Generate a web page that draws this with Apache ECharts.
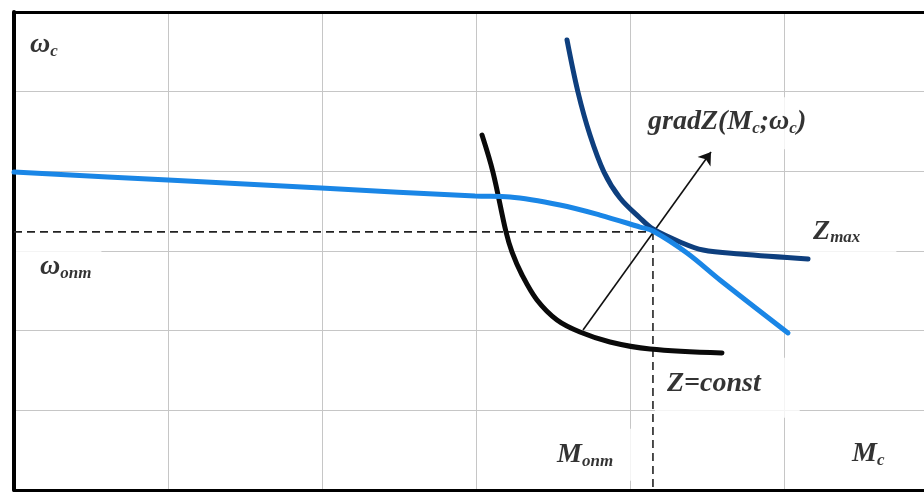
<!DOCTYPE html>
<html>
<head>
<meta charset="utf-8">
<script src="https://cdn.jsdelivr.net/npm/echarts@6/dist/echarts.min.js"></script>
<style>html,body{margin:0;padding:0;background:#fff}#c{width:924px;height:498px}</style>
</head>
<body>
<div id="c"></div>
<script>
// Light blue curve (constraint line)
const blueX = [0, 1, 1.994, 2.994, 3.221, 3.545, 3.805, 4.065, 4.149, 4.37, 4.584, 5.026];
const blueY = [3.991, 3.891, 3.79, 3.69, 3.677, 3.577, 3.451, 3.301, 3.251, 2.975, 2.636, 1.971];
// Dark navy curve Z_max
const navyX = [3.591, 3.662, 3.740, 3.831, 3.935, 4.065, 4.149, 4.325, 4.474, 4.714, 5.156];
const navyY = [5.648, 4.996, 4.456, 3.991, 3.665, 3.414, 3.276, 3.113, 3.012, 2.962, 2.9];
// Black curve Z=const
const blackX = [3.039, 3.110, 3.195, 3.234, 3.299, 3.396, 3.526, 3.675, 3.870, 4.130, 4.597];
const blackY = [4.456, 3.991, 3.238, 2.987, 2.699, 2.385, 2.134, 1.983, 1.858, 1.770, 1.720];
// Optimum point
const Mopt = 4.149;
const wopt = 3.24;
// Gradient arrow
const arrowFrom = [3.695, 2.008];
const arrowTo = [4.526, 4.243];
// Axis ranges
const xMin = 0, xMax = 5.909, yMin = 0, yMax = 6, step = 1;
// Text labels (anchor = top-left of label box in data coords)
const labelTexts = ['{m|ω}{s|c}', '{m|ω}{s|опт}', '{m|gradZ(M}{s|c}{m|;ω}{s|c}{m|)}', '{m|Z}{s|max}', '{m|Z=const}', '{m|M}{s|опт}', '{m|M}{s|c}'];
const labelX = [0.091, 0.013, 4.052, 5.104, 4.162, 3.468, 5.396];
const labelY = [5.80, 3.09, 4.93, 3.56, 1.659, 0.768, 0.743];

const zip = (a, b) => a.map((v, i) => [v, b[i]]);
const font = {fontFamily: 'Liberation Serif', fontStyle: 'italic', fontWeight: 'bold', color: '#000'};
const rich = {
  m: Object.assign({fontSize: 28, lineHeight: 30}, font),
  s: Object.assign({fontSize: 17, lineHeight: 8, verticalAlign: 'bottom'}, font)
};
const boxes = [
  {padding: [2, 4, 2, 2]},
  {padding: [8, 10, 6, 24], backgroundColor: '#fff'},
  {padding: [10, 8, 12, 10], backgroundColor: '#fff'},
  {padding: [10, 36, 12, 13], backgroundColor: '#fff'},
  {padding: [11, 39, 19, 12], backgroundColor: '#fff'},
  {padding: [11, 23, 11, 9], backgroundColor: '#fff'},
  {padding: [8, 4, 4, 7]}
];

const chart = echarts.init(document.getElementById('c'), null, {renderer: 'canvas'});
const borderX = {show: true, onZero: false, lineStyle: {color: '#000', width: 3}};
const borderY = {show: true, onZero: false, lineStyle: {color: '#000', width: 4}};
const split = {show: true, showMinLine: false, showMaxLine: false, lineStyle: {color: '#c6c6c6', width: 1}};
chart.setOption({
  animation: false,
  backgroundColor: '#fff',
  grid: {left: 14, right: 0, top: 12, bottom: 8},
  xAxis: [
    {type: 'value', min: xMin, max: xMax, interval: step, position: 'bottom',
     axisLabel: {show: false}, axisTick: {show: false}, axisLine: borderX, splitLine: split},
    {type: 'value', min: xMin, max: xMax, interval: step, position: 'top',
     axisLabel: {show: false}, axisTick: {show: false}, axisLine: borderX, splitLine: {show: false}}
  ],
  yAxis: {type: 'value', min: yMin, max: yMax, interval: step, position: 'left',
     axisLabel: {show: false}, axisTick: {show: false}, axisLine: borderY, splitLine: split},
  series: [
    {type: 'line', data: [[xMin, wopt], [Mopt, wopt]], symbol: 'none', lineStyle: {color: '#222', width: 1.6, type: [8, 5]}, z: 3},
    {type: 'line', data: [[Mopt, wopt], [Mopt, yMin]], symbol: 'none', lineStyle: {color: '#222', width: 1.6, type: [8, 5]}, z: 3},
    {type: 'lines', coordinateSystem: 'cartesian2d', polyline: false,
     data: [{coords: [arrowFrom, arrowTo]}],
     symbol: ['none', 'arrow'], symbolSize: 12,
     lineStyle: {color: '#111', width: 1.6, opacity: 1, curveness: 0}, z: 4},
    {type: 'line', data: zip(blackX, blackY), smooth: 0.35, symbol: 'none', lineStyle: {color: '#0a0a0a', width: 5, cap: 'round'}, z: 5},
    {type: 'line', data: zip(navyX, navyY), smooth: 0.35, symbol: 'none', lineStyle: {color: '#0e3f7e', width: 5, cap: 'round'}, z: 5},
    {type: 'line', data: zip(blueX, blueY), smooth: 0.35, symbol: 'none', lineStyle: {color: '#1a86e6', width: 5, cap: 'round'}, z: 6},
    {type: 'scatter', symbolSize: 0, z: 2,
     data: labelTexts.map((t, i) => ({
       value: [labelX[i], labelY[i]],
       label: Object.assign({show: true, position: [0, 0], formatter: t, rich: rich, align: 'left', verticalAlign: 'top'}, boxes[i])
     }))}
  ]
});
</script>
</body>
</html>
